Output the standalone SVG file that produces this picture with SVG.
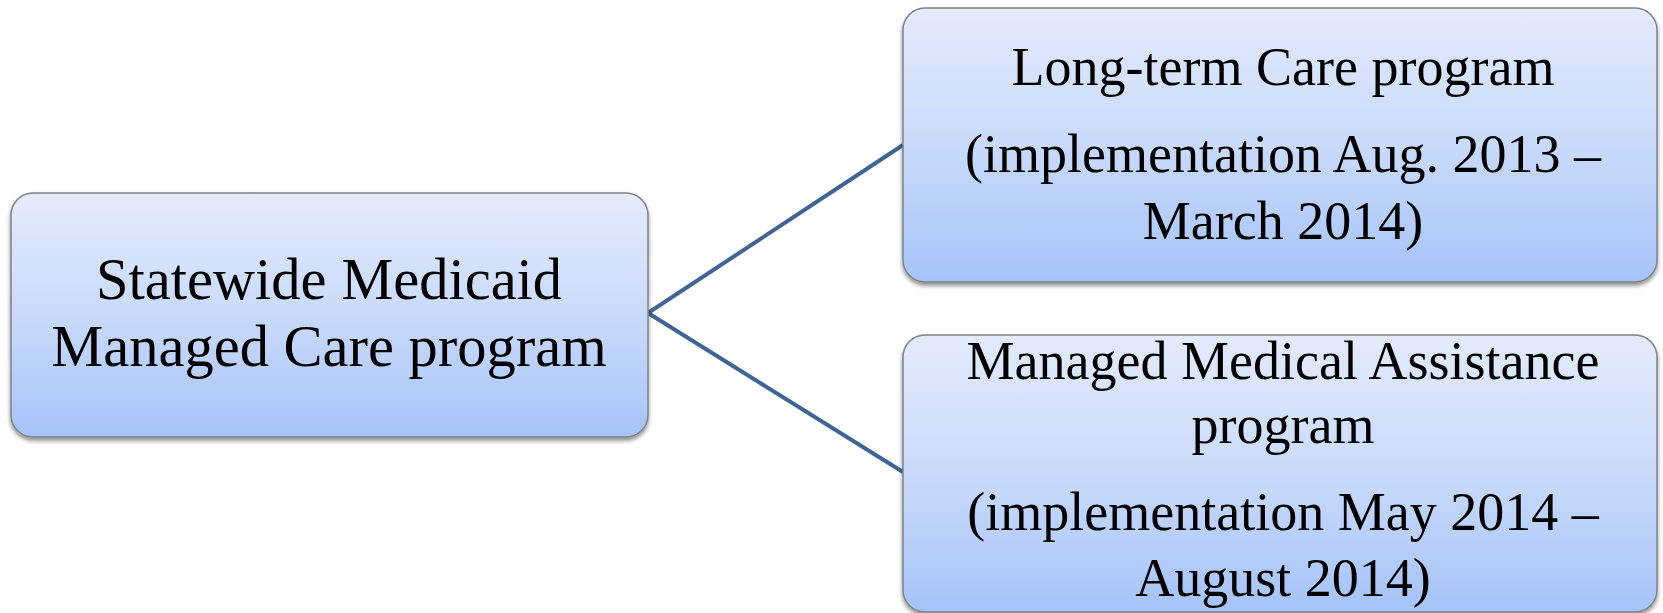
<svg xmlns="http://www.w3.org/2000/svg" width="1663" height="613" viewBox="0 0 1663 613">
  <defs>
    <linearGradient id="boxFill" x1="0" y1="0" x2="0" y2="1">
      <stop offset="0" stop-color="#E3EBFB"/>
      <stop offset="0.55" stop-color="#C6D8FA"/>
      <stop offset="1" stop-color="#A5C3F8"/>
    </linearGradient>
    <filter id="shadow" x="-5%" y="-5%" width="110%" height="115%">
      <feGaussianBlur in="SourceAlpha" stdDeviation="2"/>
      <feOffset dx="0" dy="3" result="b"/>
      <feComponentTransfer><feFuncA type="linear" slope="0.45"/></feComponentTransfer>
      <feMerge><feMergeNode/><feMergeNode in="SourceGraphic"/></feMerge>
    </filter>
  </defs>
  <style>
    .box { fill: url(#boxFill); stroke: #7F8286; stroke-width: 1.5; filter: url(#shadow); }
    .label { font-family: "Liberation Serif", "Times New Roman", serif; font-size: 54px; fill: #000; text-anchor: middle; }
    .big { font-size: 58.5px; }
    .link { stroke: #3E6596; stroke-width: 4; fill: none; }
  </style>
  <rect width="1663" height="613" fill="#FFFFFF"/>

  <g id="connectors">
    <line class="link" x1="648" y1="313" x2="903" y2="145"/>
    <line class="link" x1="648" y1="313" x2="903" y2="472"/>
  </g>

  <g id="statewide">
    <rect class="box" x="11" y="193" width="637" height="244" rx="22"/>
    <text class="label big" x="329" y="299">Statewide Medicaid</text>
    <text class="label big" x="329" y="366">Managed Care program</text>
  </g>

  <g id="long-term-care">
    <rect class="box" x="903" y="8" width="754" height="274" rx="22"/>
    <text class="label" x="1283" y="85">Long-term Care program</text>
    <text class="label" x="1283" y="172">(implementation Aug. 2013 –</text>
    <text class="label" x="1283" y="239">March 2014)</text>
  </g>

  <g id="managed-medical">
    <rect class="box" x="903" y="335" width="754" height="277" rx="22"/>
    <text class="label" x="1283" y="379">Managed Medical Assistance</text>
    <text class="label" x="1283" y="443">program</text>
    <text class="label" x="1283" y="530">(implementation May 2014 –</text>
    <text class="label" x="1283" y="596">August 2014)</text>
  </g>
</svg>
